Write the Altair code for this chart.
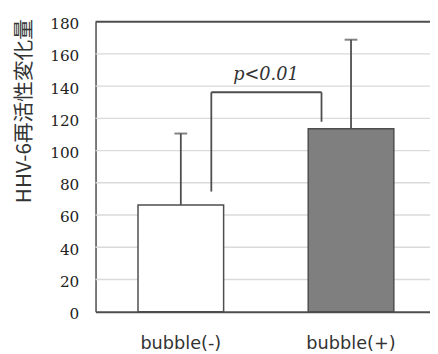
import altair as alt
import pandas as pd

groups = ["bubble(-)", "bubble(+)"]
means = [66.3, 113.5]
uppers = [110.6, 168.8]
fills = ["#ffffff", "#7f7f7f"]
y_ticks = [0, 20, 40, 60, 80, 100, 120, 140, 160, 180]

bracket_from = ["bubble(-)"]
bracket_to = ["bubble(+)"]
bracket_left_low = [74.6]
bracket_right_low = [117.9]
bracket_top = [136.2]
bracket_label = ["p<0.01"]

df = pd.DataFrame({"group": groups, "mean": means, "upper": uppers})
bdf = pd.DataFrame({
    "from": bracket_from, "to": bracket_to,
    "left_low": bracket_left_low, "right_low": bracket_right_low,
    "top": bracket_top, "label": bracket_label,
})
gdf = pd.DataFrame({"tick": y_ticks[1:-1]})
fdf = pd.DataFrame({"tick": [max(y_ticks)]})

line_col = "#4d4d4d"

x_enc = alt.X(
    "group:N", sort=groups,
    scale=alt.Scale(domain=groups, paddingInner=0.497, paddingOuter=0.231, align=0.54),
    axis=alt.Axis(
        title=None, labelAngle=0, labelFont="DejaVu Sans", labelFontSize=18,
        labelColor="#333333", labelPadding=23, ticks=False, domainColor=line_col,
        domainWidth=2, grid=False,
    ),
)
y_enc = alt.Y(
    "mean:Q",
    scale=alt.Scale(domain=[min(y_ticks), max(y_ticks)], nice=False),
    axis=alt.Axis(
        values=y_ticks, tickCount=len(y_ticks), title="HHV-6再活性変化量",
        titleFont="Noto Sans CJK JP", titleFontSize=21, titleFontWeight="normal",
        titleColor="#333333", titleAngle=-90, titleAlign="right", titleBaseline="middle",
        titleX=-72, titleY=-3,
        labelFont="DejaVu Serif", labelFontSize=15.5, labelColor="#222222",
        labelPadding=17, labelOffset=2, labelOverlap=False, ticks=False,
        domainColor=line_col, domainWidth=1.5, grid=False,
    ),
)

grid = alt.Chart(gdf).mark_rule(color="#dadada", strokeWidth=1.5).encode(
    y=alt.Y("tick:Q"),
)
top_frame = alt.Chart(fdf).mark_rule(color=line_col, strokeWidth=2).encode(
    y=alt.Y("tick:Q"),
)

bars = alt.Chart(df).mark_bar(stroke=line_col, strokeWidth=1.5).encode(
    x=x_enc,
    y=y_enc,
    fill=alt.Fill("group:N", scale=alt.Scale(domain=groups, range=fills), legend=None),
)

err = alt.Chart(df).mark_rule(color=line_col, strokeWidth=1.8).encode(
    x=alt.X("group:N", sort=groups),
    y="mean:Q",
    y2="upper:Q",
)
caps = alt.Chart(df).mark_tick(color=line_col, orient="horizontal", size=13, thickness=2).encode(
    x=alt.X("group:N", sort=groups),
    y="upper:Q",
)

left_leg = alt.Chart(bdf).mark_rule(color=line_col, strokeWidth=1.8, xOffset=31).encode(
    x=alt.X("from:N"), y="left_low:Q", y2="top:Q",
)
right_leg = alt.Chart(bdf).mark_rule(color=line_col, strokeWidth=1.8, xOffset=-30).encode(
    x=alt.X("to:N"), y="right_low:Q", y2="top:Q",
)
top_bar = alt.Chart(bdf).mark_rule(color=line_col, strokeWidth=1.8, xOffset=31, x2Offset=-30).encode(
    x=alt.X("from:N"), x2="to:N", y="top:Q",
)
ptext = alt.Chart(bdf).mark_text(
    xOffset=86.5, dy=-12.7, baseline="alphabetic", align="center",
    font="DejaVu Serif", fontStyle="italic", fontSize=18, color="#333333",
).encode(
    x=alt.X("from:N"), y="top:Q", text="label:N",
)

chart = alt.layer(grid, bars, top_frame, err, caps, left_leg, right_leg, top_bar, ptext).properties(
    width=340, height=295,
    autosize=alt.AutoSizeParams(type="none"),
    padding={"left": 89, "top": 11, "right": 0, "bottom": 40},
    background="white",
).configure_view(stroke=None)

chart.save("out.html", embed_options={"renderer": "svg", "actions": False})
